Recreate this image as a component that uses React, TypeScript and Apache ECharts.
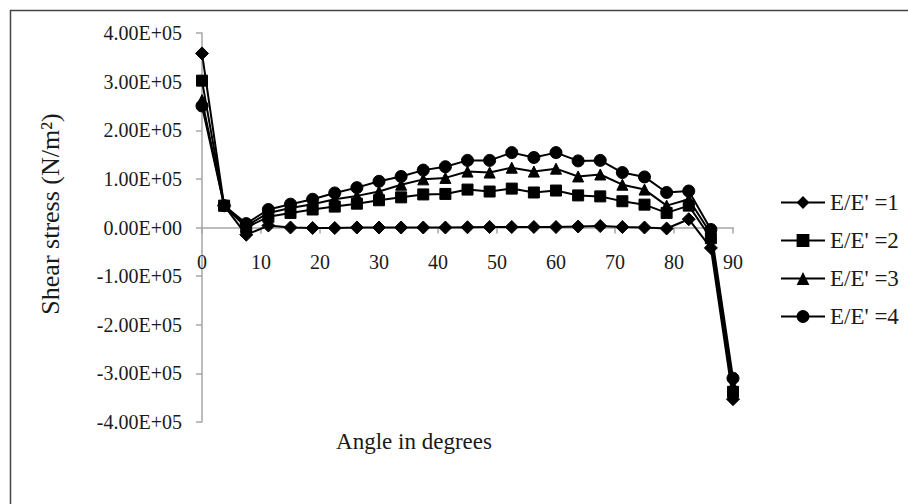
import React, { useEffect, useRef } from "react";
import * as echarts from "echarts";

const angles = [0, 3.75, 7.5, 11.25, 15, 18.75, 22.5, 26.25, 30, 33.75, 37.5, 41.25, 45, 48.75, 52.5, 56.25, 60, 63.75, 67.5, 71.25, 75, 78.75, 82.5, 86.25, 90];
const seriesNames = ["E/E' =1", "E/E' =2", "E/E' =3", "E/E' =4"];
const ratio1 = [3.58e5, 0.45e5, -0.15e5, 0.04e5, 0.0, -0.01e5, -0.01e5, 0.0, 0.0, 0.0, 0.0, 0.0, 0.005e5, 0.01e5, 0.01e5, 0.01e5, 0.01e5, 0.02e5, 0.03e5, 0.01e5, 0.0, -0.02e5, 0.17e5, -0.42e5, -3.53e5];
const ratio2 = [3.02e5, 0.45e5, 0.0, 0.22e5, 0.3e5, 0.37e5, 0.43e5, 0.49e5, 0.56e5, 0.62e5, 0.68e5, 0.69e5, 0.78e5, 0.74e5, 0.8e5, 0.72e5, 0.76e5, 0.66e5, 0.64e5, 0.54e5, 0.47e5, 0.3e5, 0.45e5, -0.22e5, -3.38e5];
const ratio3 = [2.62e5, 0.45e5, 0.03e5, 0.3e5, 0.4e5, 0.48e5, 0.58e5, 0.65e5, 0.74e5, 0.88e5, 0.99e5, 1.02e5, 1.15e5, 1.13e5, 1.23e5, 1.15e5, 1.21e5, 1.05e5, 1.09e5, 0.88e5, 0.78e5, 0.45e5, 0.58e5, -0.13e5, -3.25e5];
const ratio4 = [2.5e5, 0.45e5, 0.08e5, 0.37e5, 0.48e5, 0.58e5, 0.71e5, 0.82e5, 0.95e5, 1.05e5, 1.18e5, 1.25e5, 1.38e5, 1.38e5, 1.54e5, 1.44e5, 1.54e5, 1.37e5, 1.38e5, 1.13e5, 1.04e5, 0.72e5, 0.75e5, -0.04e5, -3.1e5];
const symbols = ["diamond", "rect", "triangle", "circle"];
const symbolSizes = [13, 11, 11, 12];

const FONT = "'Liberation Serif', 'Times New Roman', serif";
const TEXT = "#1a1a1a";
const AXIS = "#a6a6a6";

const GRID_TOP = 33;
const GRID_BOTTOM = 82;
const CHART_H = 504;

function sci(v: number): string {
  if (v === 0) return "0.00E+00";
  const s = v.toExponential(2);
  const [m, e] = s.split("e");
  const sign = e[0] === "-" ? "-" : "+";
  const digits = e.replace(/[+-]/, "").padStart(2, "0");
  return `${m}E${sign}${digits}`;
}

export default function App() {
  const ref = useRef<HTMLDivElement>(null);
  useEffect(() => {
    if (!ref.current) return;
    const chart = echarts.init(ref.current, null, { renderer: "svg" });
    const all = [ratio1, ratio2, ratio3, ratio4];
    const gridH = CHART_H - GRID_TOP - GRID_BOTTOM;
    chart.setOption({
      animation: false,
      backgroundColor: "#ffffff",
      textStyle: { fontFamily: FONT, color: TEXT },
      grid: { left: 202, right: 175, top: GRID_TOP, bottom: GRID_BOTTOM, containLabel: false },
      legend: {
        orient: "vertical",
        left: 775,
        top: 186,
        padding: 5,
        itemWidth: 44,
        itemHeight: 16,
        itemGap: 15,
        data: seriesNames,
        textStyle: { fontFamily: FONT, fontSize: 23, color: TEXT, lineHeight: 23 },
      },
      xAxis: {
        type: "value",
        min: 0,
        max: 90,
        interval: 10,
        position: "bottom",
        offset: -gridH / 2,
        axisLine: { onZero: false, lineStyle: { color: AXIS, width: 1.5 } },
        axisTick: { show: true, inside: false, length: 6, lineStyle: { color: AXIS, width: 1.5 } },
        axisLabel: { fontFamily: FONT, fontSize: 20, color: TEXT, margin: 24 },
        splitLine: { show: false },
      },
      yAxis: {
        type: "value",
        min: -4e5,
        max: 4e5,
        interval: 1e5,
        axisLine: { show: true, onZero: false, lineStyle: { color: AXIS, width: 1.5 } },
        axisTick: { show: true, inside: false, length: 6, lineStyle: { color: AXIS, width: 1.5 } },
        axisLabel: { fontFamily: FONT, fontSize: 20, color: TEXT, margin: 20, formatter: (v: number) => sci(v) },
        splitLine: { show: false },
      },
      graphic: [
        {
          type: "rect",
          shape: { x: 10.5, y: 10.5, width: 1200, height: 1000 },
          style: { fill: "none", stroke: "#444", lineWidth: 1.5 },
          silent: true,
        },
        {
          type: "text",
          x: 50,
          y: 214,
          rotation: Math.PI / 2,
          style: {
            text: "Shear stress (N/m²)",
            fontFamily: FONT,
            fontSize: 26,
            fill: TEXT,
            align: "center",
            verticalAlign: "middle",
          },
        },
        {
          type: "text",
          x: 414,
          y: 441,
          style: {
            text: "Angle in degrees",
            fontFamily: FONT,
            fontSize: 23,
            fill: TEXT,
            align: "center",
            verticalAlign: "middle",
          },
        },
      ],
      series: all.map((vals, i) => ({
        name: seriesNames[i],
        type: "line",
        data: angles.map((a, j) => [a, vals[j]]),
        symbol: symbols[i],
        symbolSize: symbolSizes[i],
        showAllSymbol: true,
        lineStyle: { color: "#000", width: 2 },
        itemStyle: { color: "#000", borderColor: "#000" },
        z: 2 + i,
      })),
    });
    return () => chart.dispose();
  }, []);
  return (
    <div
      ref={ref}
      style={{ position: "absolute", left: 0, top: 0, width: 908, height: 504 }}
    />
  );
}
